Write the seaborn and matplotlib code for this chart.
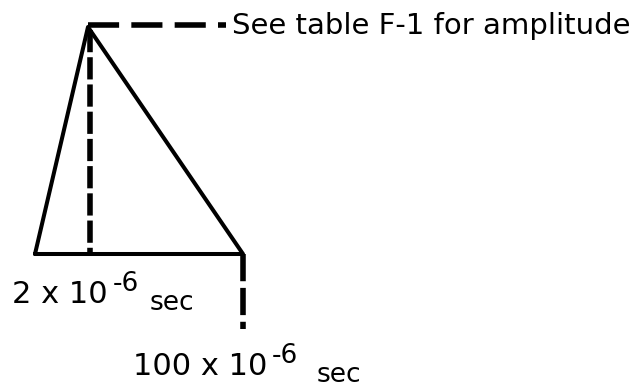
import matplotlib
matplotlib.use("Agg")
import matplotlib.pyplot as plt
import seaborn as sns
import pandas as pd

# Schematic pulse shape (drawing units, y grows downward)
pulse_t = [35, 88, 243, 35]
pulse_amp = [254, 27, 254, 254]

# Guide lines (dashed)
peak_guide_t = [90, 90]
peak_guide_amp = [30, 254]
ampl_guide_t = [88, 226]
ampl_guide_amp = [25, 25]
end_guide_t = [243, 243]
end_guide_amp = [254, 329]

amp_label = "See table F-1 for amplitude"
time_mantissa = ["2 x 10", "100 x 10"]
time_exponent = ["-6", "-6"]
time_unit = ["sec", "sec"]

sns.set_style("white")
plt.rcParams["font.family"] = ["DejaVu Sans"]

fig = plt.figure(figsize=(6.4, 3.88), dpi=100)
ax = fig.add_axes([0, 0, 1, 1])

df = pd.DataFrame({"t": pulse_t, "a": pulse_amp})
sns.lineplot(data=df, x="t", y="a", sort=False, color="black", linewidth=2.9, ax=ax,
             estimator=None)

guides = [
    (peak_guide_t, peak_guide_amp, (0, (4.0, 0.9))),
    (ampl_guide_t, ampl_guide_amp, (0, (5.6, 2.2))),
    (end_guide_t, end_guide_amp, (0, (4.9, 1.2))),
]
for tx, ty, dash in guides:
    g = pd.DataFrame({"t": tx, "a": ty})
    sns.lineplot(data=g, x="t", y="a", sort=False, color="black", linewidth=4.0,
                 ax=ax, estimator=None, linestyle=dash)

ax.text(232, 26, amp_label, fontsize=21, va="center", ha="left", color="black")

# time labels: mantissa, superscript exponent, subscript unit
label_pos = [(12, 303, 113, 150), (133, 375, 272, 317)]
for i, (x0, base, xe, xu) in enumerate(label_pos):
    ax.text(x0, base, time_mantissa[i], fontsize=22, va="baseline", ha="left", color="black")
    ax.text(xe, base - 12, time_exponent[i], fontsize=19, va="baseline", ha="left", color="black")
    ax.text(xu, base + 7, time_unit[i], fontsize=19, va="baseline", ha="left", color="black")

ax.set_xlim(0, 640)
ax.set_ylim(388, 0)
ax.set_axis_off()

fig.savefig("out.png", dpi=100, facecolor="white")
